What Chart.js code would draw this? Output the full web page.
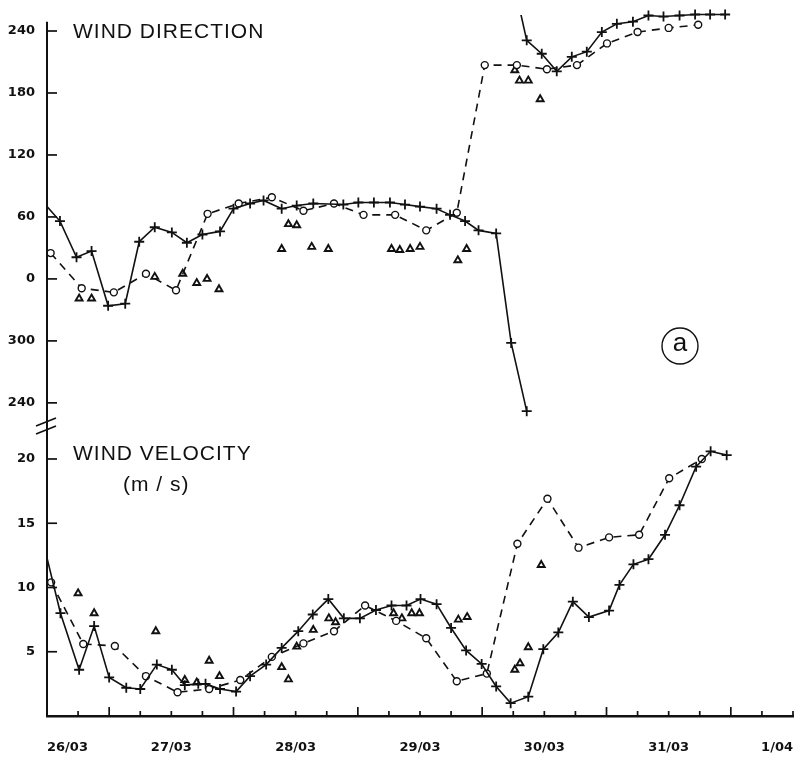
<!DOCTYPE html>
<html>
<head>
<meta charset="utf-8">
<title>Wind direction and velocity</title>
<script src="https://cdn.jsdelivr.net/npm/chart.js@4/dist/chart.umd.min.js"></script>
<style>
  html, body { margin: 0; padding: 0; background: #fff; }
  canvas { display: block; }
</style>
</head>
<body>
<canvas id="wind" width="800" height="757"></canvas>
<script>
// time is in hours after 26/03 00:00
const dayLabels = ['26/03', '27/03', '28/03', '29/03', '30/03', '31/03', '1/04'];
const hourTicks = [0, 6, 12, 18, 24, 30, 36, 42, 48, 54, 60, 66, 72, 78, 84, 90, 96, 102, 108, 114, 120, 126, 132, 138, 144];
// direction axis wraps round: values below 0 are shown as 360 + value
const dirTicks = [-120, -60, 0, 60, 120, 180, 240];
const velTicks = [5, 10, 15, 20];

// wind direction, "+" series (solid line), lower branch
const dirPlusLowT = [0, 2.5, 5.7, 8.6, 11.8, 15.1, 17.8, 20.8, 24.1, 27.0, 30.0, 33.4, 36.0, 39.2, 41.8, 45.3, 48.2, 51.4, 57.2, 60.1, 63.1, 66.2, 69.1, 72.0, 75.2, 77.8, 80.7, 83.3, 86.7, 89.6, 92.6];
const dirPlusLowV = [70, 56, 21, 27, -26, -24, 36, 50, 45, 35, 43, 46, 68, 73, 76, 68, 71, 73, 72, 74, 74, 74, 72, 70, 68, 62, 56, 47, 44, -62, -128];
// same series after it wraps past 240, redrawn at the top
const dirPlusWrapT = [89.6, 92.6];
const dirPlusWrapV = [298, 231];
const dirPlusHighT = [92.6, 95.5, 98.4, 101.3, 104.2, 107.1, 110.0, 113.1, 116.1, 119.0, 122.1, 125.1, 128.0, 130.9];
const dirPlusHighV = [231, 218, 201, 215, 220, 239, 247, 249, 255, 254, 255, 256, 256, 256];
// wind direction, "o" series (dashed)
const dirCircT = [0.7, 6.7, 12.9, 19.1, 24.9, 31.0, 37.0, 43.4, 49.5, 55.4, 61.1, 67.2, 73.2, 79.1, 84.5, 90.7, 96.5, 102.3, 108.1, 114.0, 120.0, 125.7];
const dirCircV = [25, -9, -13, 5, -11, 63, 73, 79, 66, 73, 62, 62, 47, 64, 207, 207, 203, 207, 228, 239, 243, 246];
// wind direction, triangles (no line)
const dirTriT = [6.2, 8.6, 20.8, 26.2, 28.9, 30.9, 33.2, 45.3, 46.6, 48.2, 51.1, 54.3, 66.5, 68.1, 70.1, 72.0, 79.3, 81.0, 90.3, 91.2, 92.9, 95.2];
const dirTriV = [-19, -19, 2, 5, -4, 0, -10, 29, 53, 52, 31, 29, 29, 28, 29, 31, 18, 29, 202, 192, 192, 174];

// wind velocity (m/s)
const velPlusT = [0, 2.6, 6.2, 9.1, 12.0, 15.3, 18.0, 21.2, 24.1, 26.6, 29.2, 30.6, 33.4, 36.5, 39.2, 42.3, 45.3, 48.5, 51.3, 54.3, 57.3, 60.4, 63.5, 66.5, 69.4, 72.1, 75.2, 78.0, 80.9, 83.9, 86.7, 89.5, 92.9, 95.8, 98.7, 101.5, 104.6, 108.5, 110.5, 113.2, 116.1, 119.3, 122.1, 125.3, 128.1, 131.2];
const velPlusV = [12.3, 8.0, 3.6, 7.0, 3.0, 2.2, 2.1, 4.0, 3.6, 2.4, 2.5, 2.5, 2.1, 1.9, 3.1, 4.0, 5.3, 6.6, 7.9, 9.1, 7.6, 7.6, 8.25, 8.6, 8.6, 9.1, 8.7, 6.85, 5.1, 4.05, 2.3, 1.0, 1.5, 5.2, 6.5, 8.9, 7.7, 8.2, 10.2, 11.8, 12.2, 14.1, 16.4, 19.4, 20.6, 20.3];
const velCircT = [0.8, 7.0, 13.1, 19.1, 25.2, 31.3, 37.3, 43.4, 49.5, 55.4, 61.4, 67.4, 73.2, 79.1, 84.9, 90.8, 96.6, 102.6, 108.5, 114.3, 120.1, 126.4];
const velCircV = [10.4, 5.6, 5.45, 3.1, 1.85, 2.1, 2.8, 4.6, 5.65, 6.6, 8.6, 7.4, 6.05, 2.7, 3.3, 13.4, 16.9, 13.1, 13.9, 14.1, 18.5, 20.0];
const velTriT = [6.0, 9.1, 21.0, 26.6, 28.9, 31.3, 33.3, 45.3, 46.6, 48.2, 51.4, 54.4, 55.7, 66.9, 68.5, 70.4, 71.9, 79.4, 81.1, 90.3, 91.3, 92.9, 95.4];
const velTriV = [9.55, 8.0, 6.6, 2.8, 2.6, 4.3, 3.1, 3.8, 2.85, 5.4, 6.7, 7.6, 7.3, 8.0, 7.6, 8.0, 8.0, 7.5, 7.7, 3.6, 4.1, 5.35, 11.75];

const pts = (t, v) => t.map((h, i) => ({ x: h, y: v[i] }));
const INK = '#111';

// line styles for the three kinds of series
function plusSeries(t, v, axis, extra) {
  return Object.assign({
    data: pts(t, v), yAxisID: axis,
    borderColor: INK, borderWidth: 1.6, tension: 0, fill: false,
    pointStyle: 'cross', pointRadius: 5, pointBorderWidth: 1.8,
    pointBorderColor: INK
  }, extra || {});
}
function circSeries(t, v, axis) {
  return {
    data: pts(t, v), yAxisID: axis,
    borderColor: INK, borderWidth: 1.6, borderDash: [8, 6], tension: 0, fill: false,
    pointStyle: 'circle', pointRadius: 3.5, pointBorderWidth: 1.4,
    pointBorderColor: INK, pointBackgroundColor: '#fff'
  };
}
function triSeries(t, v, axis) {
  return {
    data: pts(t, v), yAxisID: axis, showLine: false,
    pointStyle: 'triangle', pointRadius: 4, pointBorderWidth: 1.9,
    pointBorderColor: INK, pointBackgroundColor: '#fff'
  };
}

// the first point of a line that comes in from the left edge has no marker
const noFirstMark = c => (c.dataIndex === 0 ? 0 : 5);

const decor = {
  id: 'decor',
  afterDraw(chart) {
    const { ctx, scales: { x, dir, vel } } = chart;
    const line = (x1, y1, x2, y2) => {
      ctx.beginPath(); ctx.moveTo(x1, y1); ctx.lineTo(x2, y2); ctx.stroke();
    };
    ctx.save();
    ctx.strokeStyle = INK;
    ctx.fillStyle = INK;

    // left axis, shared by both panels
    const ax = x.left;
    ctx.lineWidth = 2;
    line(ax, dir.getPixelForValue(249), ax, x.top + 1);

    // tick marks point into the plot
    ctx.lineWidth = 1.7;
    hourTicks.forEach(h => {
      const px = x.getPixelForValue(h);
      line(px, x.top, px, x.top - (h % 24 === 12 ? 9 : 5));
    });
    dirTicks.forEach(v => { const py = dir.getPixelForValue(v); line(ax, py, ax + 10, py); });
    velTicks.forEach(v => { const py = vel.getPixelForValue(v); line(ax, py, ax + 10, py); });

    // axis break between direction and velocity
    const by = dir.bottom;
    ctx.lineWidth = 1.6;
    line(ax - 11, by - 6, ax + 9, by - 14);
    line(ax - 11, by + 2, ax + 9, by - 6);

    // panel titles
    ctx.font = '21px "Liberation Sans", Arial, sans-serif';
    ctx.letterSpacing = '1px';
    ctx.textAlign = 'left';
    ctx.textBaseline = 'alphabetic';
    ctx.fillText('WIND DIRECTION', 73, 38);
    ctx.fillText('WIND VELOCITY', 73, 460);
    ctx.fillText('(m / s)', 123, 491);

    // panel tag
    ctx.letterSpacing = '0px';
    ctx.lineWidth = 1.4;
    ctx.beginPath();
    ctx.arc(680, 346, 18, 0, Math.PI * 2);
    ctx.stroke();
    ctx.font = '26px "Liberation Sans", Arial, sans-serif';
    ctx.textAlign = 'center';
    ctx.textBaseline = 'middle';
    ctx.fillText('a', 680, 344);
    ctx.restore();
  }
};

const tickFont = { family: '"DejaVu Sans", sans-serif', size: 13, weight: 'bold' };

const yAxis = (min, max, ticks, weight, fmt) => ({
  type: 'linear', position: 'left', stack: 'wind', stackWeight: weight,
  min: min, max: max,
  afterBuildTicks: s => { s.ticks = ticks.map(v => ({ value: v })); },
  afterFit: s => { s.width = 47; s.paddingTop = 0; s.paddingBottom = 0; },
  grid: { display: false, drawTicks: false },
  border: { display: false },
  ticks: { color: INK, font: tickFont, padding: 12, callback: fmt }
});

new Chart(document.getElementById('wind').getContext('2d'), {
  type: 'line',
  data: {
    datasets: [
      plusSeries(dirPlusLowT, dirPlusLowV, 'dir', { pointRadius: noFirstMark }),
      plusSeries(dirPlusWrapT, dirPlusWrapV, 'dir', { pointRadius: 0, clip: 0 }),
      plusSeries(dirPlusHighT, dirPlusHighV, 'dir', { clip: { left: 0, top: 8, right: 0, bottom: 0 } }),
      circSeries(dirCircT, dirCircV, 'dir'),
      triSeries(dirTriT, dirTriV, 'dir'),
      plusSeries(velPlusT, velPlusV, 'vel', { pointRadius: noFirstMark }),
      circSeries(velCircT, velCircV, 'vel'),
      triSeries(velTriT, velTriV, 'vel')
    ]
  },
  options: {
    responsive: false,
    animation: false,
    layout: { padding: { top: 15, right: 7, bottom: 0, left: 0 } },
    plugins: { legend: { display: false }, tooltip: { enabled: false } },
    scales: {
      x: {
        type: 'linear', position: 'bottom', min: 0, max: 144,
        afterBuildTicks: s => { s.ticks = hourTicks.map(v => ({ value: v })); },
        afterFit: s => { s.height = 41; s.paddingLeft = 0; s.paddingRight = 0; },
        grid: { display: false, drawTicks: false },
        border: { color: INK, width: 2.5 },
        ticks: {
          color: INK, font: tickFont, padding: 24, autoSkip: false, maxRotation: 0,
          align: 'inner',
          callback: v => (v % 24 === 0 ? dayLabels[v / 24] : '')
        }
      },
      vel: yAxis(0, 22.1, velTicks, 284, v => v),
      dir: yAxis(-148.2, 255.5, dirTicks, 417, v => (v < 0 ? v + 360 : v))
    }
  },
  plugins: [decor]
});
</script>
</body>
</html>
